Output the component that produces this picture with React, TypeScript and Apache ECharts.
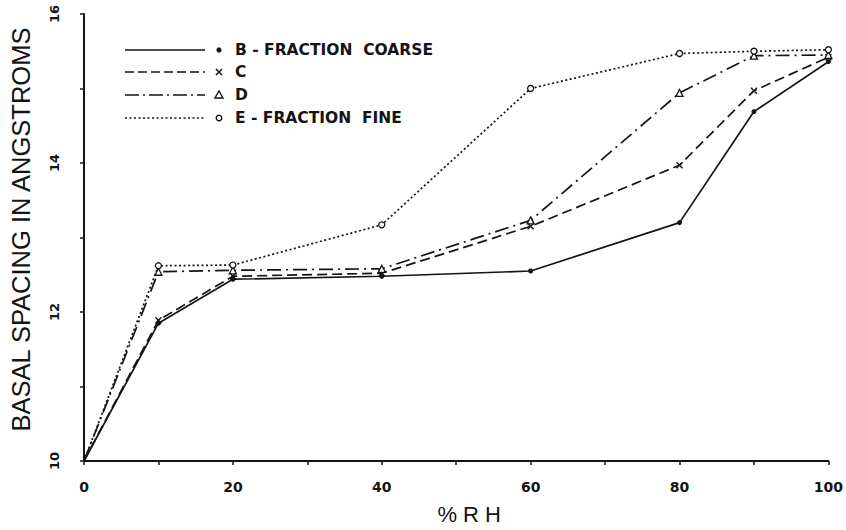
import React, { useEffect, useRef } from "react";
import * as echarts from "echarts";

const rh = [0, 10, 20, 40, 60, 80, 90, 100];
const bCoarse = [10, 11.85, 12.44, 12.48, 12.55, 13.2, 14.69, 15.36];
const cVals = [10, 11.89, 12.48, 12.52, 13.15, 13.97, 14.97, 15.42];
const dVals = [10, 12.54, 12.56, 12.58, 13.23, 14.94, 15.44, 15.45];
const eVals = [10, 12.62, 12.63, 13.17, 15.0, 15.47, 15.5, 15.52];

const legendLabels = ["B - FRACTION  COARSE", "C", "D", "E - FRACTION  FINE"];
const xLabelStep = 20;
const yLabelStep = 2;

const INK = "#141414";
const CROSS = "path://M0,0L10,10M10,0L0,10";

export default function App() {
  const ref = useRef<HTMLDivElement>(null);
  useEffect(() => {
    if (!ref.current) return;
    const chart = echarts.init(ref.current, null, { renderer: "svg" });
    const mk = (vals: number[]) => vals.map((v, i) => [rh[i], v]);
    const seriesDefs = [
      { name: legendLabels[0], data: bCoarse, type: "solid" as any, symbol: "circle", size: 5, fill: INK, bw: 0 },
      { name: legendLabels[1], data: cVals, type: [10, 5] as any, symbol: CROSS, size: 6, fill: "none", bw: 1.4 },
      { name: legendLabels[2], data: dVals, type: [14, 5, 2, 5] as any, symbol: "triangle", size: 7, fill: "#fff", bw: 1.3 },
      { name: legendLabels[3], data: eVals, type: [2, 2.5] as any, symbol: "circle", size: 6, fill: "#fff", bw: 1.3 },
    ];
    const series = seriesDefs.map((s) => ({
      name: s.name,
      type: "line",
      data: mk(s.data).map((p, i) => (i === 0 ? { value: p, symbol: "none" } : p)),
      symbol: s.symbol,
      symbolSize: s.size,
      showAllSymbol: true,
      lineStyle: { color: INK, width: 1.7, type: s.type },
      itemStyle: { color: s.fill, borderColor: INK, borderWidth: s.bw },
      z: 3,
    }));

    const legendX0 = 125;
    const legendX1 = 205;
    const markX = 219;
    const textX = 235;
    const rows = [50, 72, 95, 118];
    const dashes: any[] = [null, [9, 4], [14, 4, 2, 4], [2, 2.5]];
    const graphics: any[] = [];
    rows.forEach((y, i) => {
      graphics.push({
        type: "line",
        shape: { x1: legendX0, y1: y, x2: legendX1, y2: y },
        style: { stroke: INK, lineWidth: 1.6, lineDash: dashes[i] || undefined },
      });
      if (i === 0) {
        graphics.push({ type: "circle", shape: { cx: markX, cy: y, r: 2.6 }, style: { fill: INK } });
      } else if (i === 1) {
        graphics.push({ type: "line", shape: { x1: markX - 3, y1: y - 3, x2: markX + 3, y2: y + 3 }, style: { stroke: INK, lineWidth: 1.5 } });
        graphics.push({ type: "line", shape: { x1: markX + 3, y1: y - 3, x2: markX - 3, y2: y + 3 }, style: { stroke: INK, lineWidth: 1.5 } });
      } else if (i === 2) {
        graphics.push({ type: "polygon", shape: { points: [[markX, y - 4], [markX + 4, y + 3], [markX - 4, y + 3]] }, style: { fill: "#fff", stroke: INK, lineWidth: 1.4 } });
      } else {
        graphics.push({ type: "circle", shape: { cx: markX, cy: y, r: 2.8 }, style: { fill: "#fff", stroke: INK, lineWidth: 1.4 } });
      }
      graphics.push({
        type: "text",
        x: textX,
        y,
        style: {
          text: legendLabels[i],
          fill: INK,
          font: 'bold 15.5px "DejaVu Sans"',
          textVerticalAlign: "middle",
          textAlign: "left",
        },
      });
    });

    chart.setOption({
      animation: false,
      backgroundColor: "#fff",
      grid: { left: 72, right: 13, top: 14, bottom: 64 },
      xAxis: {
        type: "value",
        min: 0,
        max: 100,
        interval: 10,
        name: "% R H",
        nameLocation: "middle",
        nameGap: 42,
        nameTextStyle: { fontFamily: "Liberation Sans", fontSize: 22, color: INK, padding: [0, 0, 0, 26] },
        axisLine: { lineStyle: { color: INK, width: 2 } },
        axisTick: { show: true, length: 4, lineStyle: { color: INK, width: 1.5 } },
        axisLabel: {
          formatter: (v: number) => (v % xLabelStep === 0 ? String(v) : ""),
          fontFamily: "DejaVu Sans",
          fontWeight: "bold",
          fontSize: 14,
          color: INK,
          margin: 19,
          showMaxLabel: true,
          showMinLabel: true,
        },
        splitLine: { show: false },
      },
      yAxis: {
        type: "value",
        min: 10,
        max: 16,
        interval: 1,
        name: "BASAL SPACING IN ANGSTROMS",
        nameLocation: "middle",
        nameRotate: 90,
        nameGap: 50,
        nameTextStyle: { fontFamily: "Liberation Sans", fontSize: 25.5, color: INK, padding: [0, 0, 0, 16] },
        axisLine: { show: true, lineStyle: { color: INK, width: 2 } },
        axisTick: { show: true, length: 4, lineStyle: { color: INK, width: 1.5 } },
        axisLabel: {
          formatter: (v: number) => (v % yLabelStep === 0 ? String(v) : ""),
          rotate: 90,
          fontFamily: "DejaVu Sans",
          fontWeight: "bold",
          fontSize: 13,
          color: INK,
          margin: 23,
        },
        splitLine: { show: false },
      },
      graphic: graphics,
      series,
    } as any);
    return () => chart.dispose();
  }, []);
  return <div ref={ref} style={{ width: 846, height: 530, position: "absolute", left: 0, top: 0 }} />;
}
